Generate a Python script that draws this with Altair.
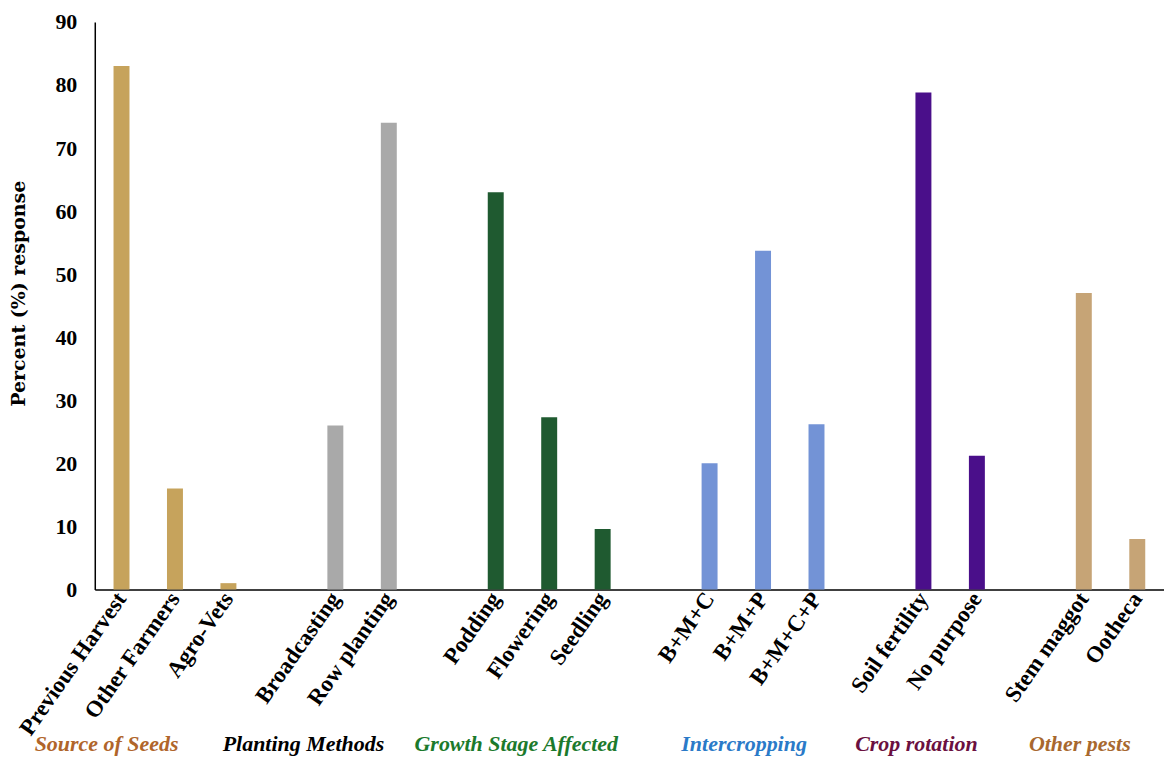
import altair as alt
import pandas as pd

# ---- data ----
categories = ["Previous Harvest", "Other Farmers", "Agro-Vets",
              "Broadcasting", "Row planting",
              "Podding", "Flowering", "Seedling",
              "B+M+C", "B+M+P", "B+M+C+P",
              "Soil fertility", "No purpose",
              "Stem maggot", "Ootheca"]
values = [83, 16, 1,
          26, 74,
          63, 27.3, 9.6,
          20, 53.7, 26.2,
          78.8, 21.2,
          47, 8]
groups = ["Source of Seeds"] * 3 + ["Planting Methods"] * 2 + \
         ["Growth Stage Affected"] * 3 + ["Intercropping"] * 3 + \
         ["Crop rotation"] * 2 + ["Other pests"] * 2
group_names = ["Source of Seeds", "Planting Methods", "Growth Stage Affected",
               "Intercropping", "Crop rotation", "Other pests"]
# slot order on the axis, blanks separate the groups
slot_order = ["Previous Harvest", "Other Farmers", "Agro-Vets", " ",
              "Broadcasting", "Row planting", "  ",
              "Podding", "Flowering", "Seedling", "   ",
              "B+M+C", "B+M+P", "B+M+C+P", "    ",
              "Soil fertility", "No purpose", "     ",
              "Stem maggot", "Ootheca"]
y_ticks = [0, 10, 20, 30, 40, 50, 60, 70, 80, 90]

# ---- styles ----
bar_colors = ["#c6a35c", "#a9a9a9", "#1f5a30", "#7393d6", "#4a0f8a", "#c6a476"]
label_colors = ["#b0652a", "#000000", "#1b7a2c", "#2a7ac8", "#6b1040", "#a8682e"]
label_anchor = ["Previous Harvest", "Broadcasting", "Flowering",
                "B+M+P", "Soil fertility", "Stem maggot"]
label_dx = [-15, -32, -33, -19, -7, -4]

W, H = 1072, 569

df = pd.DataFrame({"category": categories, "value": values, "group": groups})

x_enc = alt.X("category:N", sort=slot_order,
              scale=alt.Scale(domain=slot_order, paddingInner=0, paddingOuter=0),
              axis=alt.Axis(title=None, orient="bottom", labelAngle=-55,
                            labelFont="Liberation Serif",
                            labelFontWeight="bold", labelFontSize=23, labelColor="black",
                            ticks=False, domainColor="black", domainWidth=1.5,
                            labelPadding=5, labelLimit=300, grid=False))

bars = alt.Chart(df).mark_bar(size=16).encode(
    x=x_enc,
    y=alt.Y("value:Q", scale=alt.Scale(domain=[0, 90], nice=False),
            axis=alt.Axis(title="Percent (%) response", values=y_ticks,
                          labelFont="Liberation Serif", labelFontWeight="bold",
                          labelFontSize=22, labelColor="black", ticks=False,
                          domainColor="black", domainWidth=1.5, grid=False,
                          labelPadding=18, titleFont="DejaVu Serif",
                          titleFontWeight="bold", titleFontSize=19,
                          titleColor="black", titlePadding=26, titleY=272)),
    color=alt.Color("group:N", scale=alt.Scale(domain=group_names, range=bar_colors),
                    legend=None),
)

layers = [bars]
for name, col, anc, dx in zip(group_names, label_colors, label_anchor, label_dx):
    t = alt.Chart(pd.DataFrame({"category": [anc], "label": [name]})).mark_text(
        font="Liberation Serif", fontStyle="italic", fontWeight="bold",
        fontSize=22, color=col, baseline="middle", align="center", dx=dx
    ).encode(
        x=alt.X("category:N", sort=slot_order),
        y=alt.value(H + 155),
        text="label:N",
    )
    layers.append(t)

chart = alt.layer(*layers).properties(
    width=W, height=H,
    padding={"left": 2, "top": 2, "right": 0, "bottom": 0},
    view=alt.ViewBackground(strokeOpacity=0, strokeWidth=0),
).configure_view(strokeOpacity=0, strokeWidth=0).configure_axis(
    grid=False).configure(background="white")

chart.save("out.html", embed_options={"renderer": "svg", "actions": False})
